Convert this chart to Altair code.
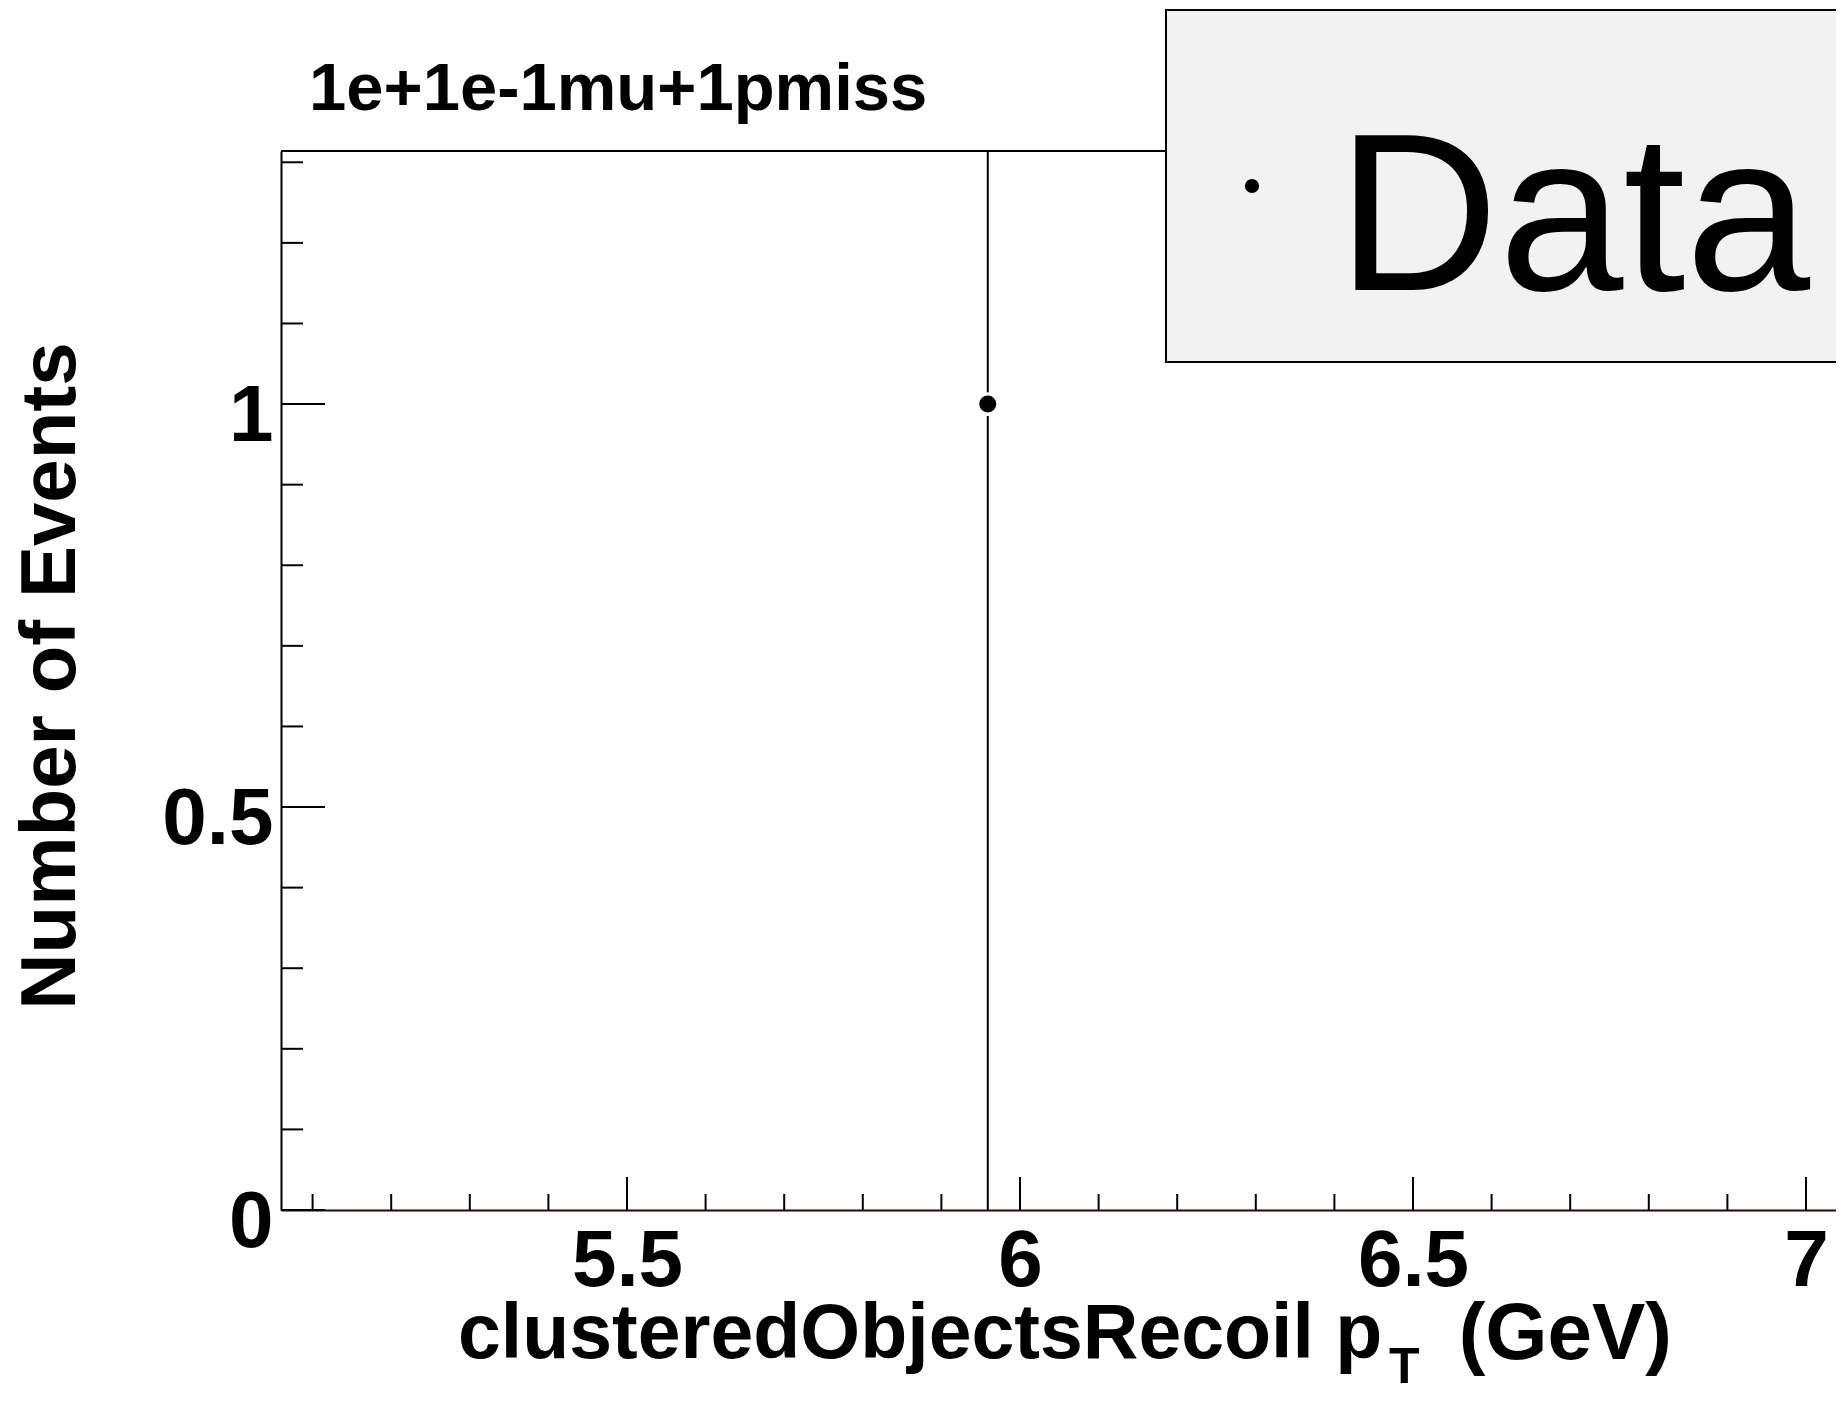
import altair as alt
import pandas as pd

# ---- data ----
bin_centers = [5.959]
counts = [1.0]
err_low = [1.0]
err_high = [1.0]

x_major = [5.5, 6.0, 6.5, 7.0]
x_minor = [5.1, 5.2, 5.3, 5.4, 5.6, 5.7, 5.8, 5.9, 6.1, 6.2, 6.3, 6.4,
           6.6, 6.7, 6.8, 6.9]
y_major = [0.0, 0.5, 1.0]
y_minor = [0.1, 0.2, 0.3, 0.4, 0.6, 0.7, 0.8, 0.9, 1.1, 1.2, 1.3]

title_text = "1e+1e-1mu+1pmiss"
ytitle_text = "Number of Events"
xtitle_main = "clusteredObjectsRecoil p"
xtitle_sub = "T"
xtitle_unit = "(GeV)"
legend_label = "Data"

W, H = 1555, 1059
X_DOMAIN = [5.0598, 5.0598 + W / 786.0]
Y_DOMAIN = [0.0, 1.314]
FONT = "Liberation Sans"

df = pd.DataFrame({
    "x": bin_centers,
    "y": counts,
    "lo": [c - e for c, e in zip(counts, err_low)],
    "hi": [c + e for c, e in zip(counts, err_high)],
})

xs = alt.Scale(domain=X_DOMAIN, nice=False, zero=False)
ys = alt.Scale(domain=Y_DOMAIN, nice=False, zero=False)

x_axis = alt.Axis(values=x_major, format="~g", ticks=False, tickSize=0, grid=False,
                  labelFont=FONT, labelFontWeight="bold", labelFontSize=80,
                  labelColor="black", labelPadding=12, labelBaseline="top",
                  labelFlush=False, labelOverlap=False, labelBound=False,
                  domainColor="#2a0505", domainWidth=2, title=None)
y_axis = alt.Axis(values=y_major, format="~g", ticks=False, tickSize=0, grid=False,
                  labelFont=FONT, labelFontWeight="bold", labelFontSize=80,
                  labelColor="black", labelPadding=8, labelBaseline="middle",
                  labelOffset=12, labelAlign="right",
                  labelFlush=False, labelOverlap=False, labelBound=False,
                  domainColor="black", domainWidth=2, title=None)

errbar = alt.Chart(df).mark_rule(color="black", strokeWidth=2, clip=True).encode(
    x=alt.X("x:Q", scale=xs, axis=x_axis),
    y=alt.Y("lo:Q", scale=ys, axis=y_axis),
    y2="hi:Q",
)

halo = alt.Chart(df).mark_circle(size=560, color="white", opacity=1).encode(
    x=alt.X("x:Q", scale=xs), y=alt.Y("y:Q", scale=ys))
dot = alt.Chart(df).mark_circle(size=290, color="black", opacity=1).encode(
    x=alt.X("x:Q", scale=xs), y=alt.Y("y:Q", scale=ys))

xmaj = alt.Chart(pd.DataFrame({"v": x_major})).mark_rule(color="black", strokeWidth=2, clip=True).encode(
    x=alt.X("v:Q", scale=xs), y=alt.value(H), y2=alt.value(H - 33))
xmin = alt.Chart(pd.DataFrame({"v": x_minor})).mark_rule(color="black", strokeWidth=2, clip=True).encode(
    x=alt.X("v:Q", scale=xs), y=alt.value(H), y2=alt.value(H - 16))
ymaj = alt.Chart(pd.DataFrame({"v": y_major})).mark_rule(color="black", strokeWidth=2).encode(
    y=alt.Y("v:Q", scale=ys), x=alt.value(0), x2=alt.value(44))
ymin = alt.Chart(pd.DataFrame({"v": y_minor})).mark_rule(color="black", strokeWidth=2).encode(
    y=alt.Y("v:Q", scale=ys), x=alt.value(0), x2=alt.value(22))

topline = alt.Chart(pd.DataFrame({"a": [0]})).mark_rule(color="black", strokeWidth=2).encode(
    x=alt.value(0), x2=alt.value(W), y=alt.value(0))

legbox = alt.Chart(pd.DataFrame({"a": [0]})).mark_rect(
    fill="#f2f2f2", stroke="black", strokeWidth=2).encode(
    x=alt.value(885), x2=alt.value(1700), y=alt.value(-141), y2=alt.value(211))
legdot = alt.Chart(pd.DataFrame({"a": [0]})).mark_circle(size=200, color="black", opacity=1).encode(
    x=alt.value(971), y=alt.value(35))
legtext = alt.Chart(pd.DataFrame({"t": [legend_label]})).mark_text(
    font=FONT, fontSize=224, fontWeight="normal", color="black",
    align="left", baseline="alphabetic").encode(
    text="t:N", x=alt.value(1056), y=alt.value(139))

title = alt.Chart(pd.DataFrame({"t": [title_text]})).mark_text(
    font=FONT, fontSize=67, fontWeight="bold", color="black",
    align="left", baseline="alphabetic").encode(
    text="t:N", x=alt.value(28), y=alt.value(-41))
ytitle = alt.Chart(pd.DataFrame({"t": [ytitle_text]})).mark_text(
    font=FONT, fontSize=78, fontWeight="bold", color="black",
    align="center", baseline="alphabetic", angle=270).encode(
    text="t:N", x=alt.value(-206), y=alt.value(525))
xtitle1 = alt.Chart(pd.DataFrame({"t": [xtitle_main]})).mark_text(
    font=FONT, fontSize=77, fontWeight="bold", color="black",
    align="left", baseline="alphabetic").encode(
    text="t:N", x=alt.value(177), y=alt.value(1207))
xtitle2 = alt.Chart(pd.DataFrame({"t": [xtitle_sub]})).mark_text(
    font=FONT, fontSize=50, fontWeight="bold", color="black",
    align="left", baseline="alphabetic").encode(
    text="t:N", x=alt.value(1108), y=alt.value(1232))
xtitle3 = alt.Chart(pd.DataFrame({"t": [xtitle_unit]})).mark_text(
    font=FONT, fontSize=80, fontWeight="bold", color="black",
    align="right", baseline="alphabetic").encode(
    text="t:N", x=alt.value(1391), y=alt.value(1208))

chart = alt.layer(
    errbar, xmaj, xmin, ymaj, ymin, topline, halo, dot,
    legbox, legdot, legtext, title, ytitle, xtitle1, xtitle2, xtitle3,
).properties(
    width=W, height=H,
    autosize=alt.AutoSizeParams(type="none"),
    padding={"left": 273, "top": 143, "right": 0, "bottom": 174},
    background="white",
).configure_view(stroke=None)

chart.save("out.html", embed_options={"renderer": "svg", "actions": False})
